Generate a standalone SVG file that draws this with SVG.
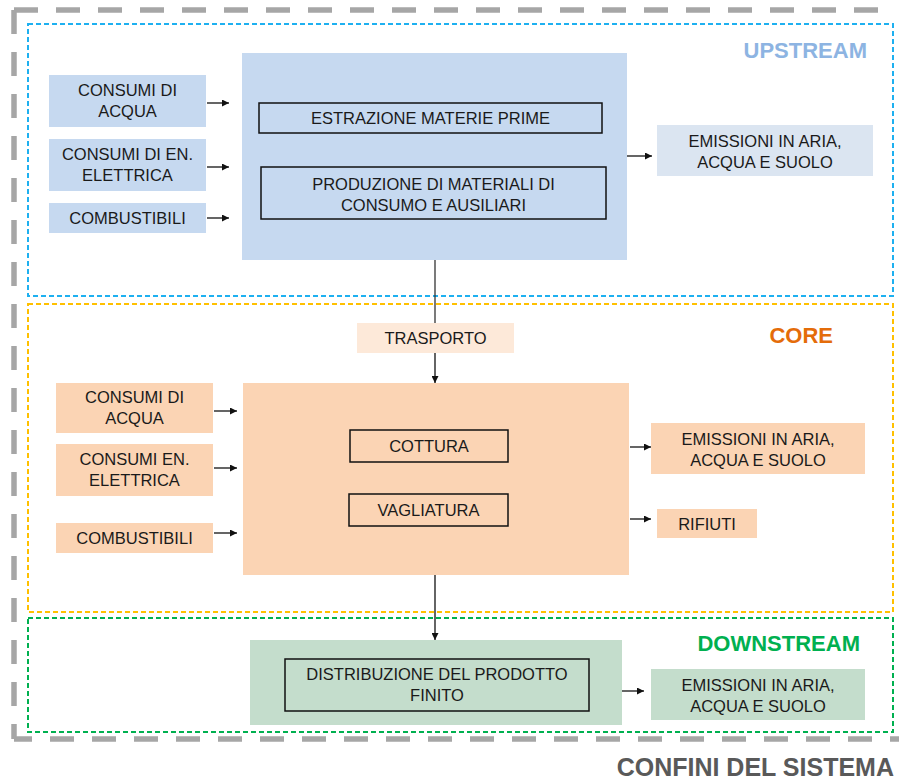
<svg xmlns="http://www.w3.org/2000/svg" width="899" height="780" viewBox="0 0 899 780">
<defs>
<marker id="ah" viewBox="0 0 10 10" refX="10" refY="5" markerWidth="7" markerHeight="7" markerUnits="userSpaceOnUse" orient="auto"><path d="M0,0 L10,5 L0,10 z" fill="#111"/></marker>
<style>
.t{font-family:"Liberation Sans",Arial,sans-serif;font-size:16.5px;fill:#1a1a1a;text-anchor:middle}
.lbl{font-family:"Liberation Sans",Arial,sans-serif;font-size:22px;font-weight:bold;text-anchor:end}
.c{stroke:#111;stroke-width:1.3;fill:none;marker-end:url(#ah)}
.v{stroke:#333;stroke-width:1.3;fill:none}
.in{fill:none;stroke:#111;stroke-width:1.5}
.up{fill:#C6D9F0}
.core{fill:#FBD4B4}
.dn{fill:#C4DDCC}
</style>
</defs>
<rect width="899" height="780" fill="#fff"/>
<!-- system boundary -->
<g id="boundary" fill="none" stroke="#A6A6A6" stroke-width="5.5" stroke-dasharray="24 18">
<path d="M14,10 H893"/>
<path d="M14,10 V739"/>
<path d="M14,739 H899" stroke-dashoffset="6"/>
</g>
<g id="zones" fill="none" stroke-width="2" stroke-dasharray="5 3">
<rect id="zone-upstream" x="28" y="24" width="865" height="272" stroke="#1EB0F0"/>
<rect id="zone-core" x="28" y="304" width="865" height="308" stroke="#FFC000"/>
<rect id="zone-downstream" x="28" y="618" width="865" height="114" stroke="#00B050"/>
</g>
<text class="lbl" x="867" y="58" fill="#8DB4E2">UPSTREAM</text>
<text class="lbl" x="833" y="343" fill="#E46C0A">CORE</text>
<text class="lbl" x="860" y="651" fill="#00B050">DOWNSTREAM</text>
<text class="lbl" x="894" y="776" fill="#595959" font-size="25" style="font-size:25px">CONFINI DEL SISTEMA</text>

<!-- upstream -->
<g id="up-acqua"><rect class="up" x="49" y="75" width="157" height="52"/><text class="t" x="127.5" y="96">CONSUMI DI</text><text class="t" x="127.5" y="117">ACQUA</text></g>
<g id="up-elettrica"><rect class="up" x="49" y="139" width="157" height="52"/><text class="t" x="127.5" y="160">CONSUMI DI EN.</text><text class="t" x="127.5" y="181">ELETTRICA</text></g>
<g id="up-combustibili"><rect class="up" x="49" y="203" width="157" height="30"/><text class="t" x="127.5" y="224">COMBUSTIBILI</text></g>
<g id="up-main"><rect class="up" x="242" y="53" width="385" height="207"/>
<rect class="in" x="259" y="103" width="343" height="30"/><text class="t" x="430.5" y="124">ESTRAZIONE MATERIE PRIME</text>
<rect class="in" x="261" y="167" width="345" height="52"/><text class="t" x="433.5" y="190">PRODUZIONE DI MATERIALI DI</text><text class="t" x="433.5" y="211">CONSUMO E AUSILIARI</text></g>
<g id="up-emissioni"><rect fill="#DBE5F1" x="657" y="125" width="216" height="51"/><text class="t" x="765" y="147">EMISSIONI IN ARIA,</text><text class="t" x="765" y="168">ACQUA E SUOLO</text></g>

<!-- core -->
<g id="trasporto"><rect fill="#FDE9D9" x="357" y="323" width="157" height="30"/><text class="t" x="435.5" y="344">TRASPORTO</text></g>
<g id="core-acqua"><rect class="core" x="56" y="383" width="157" height="50"/><text class="t" x="134.5" y="403">CONSUMI DI</text><text class="t" x="134.5" y="424">ACQUA</text></g>
<g id="core-elettrica"><rect class="core" x="56" y="444" width="157" height="52"/><text class="t" x="134.5" y="465">CONSUMI EN.</text><text class="t" x="134.5" y="486">ELETTRICA</text></g>
<g id="core-combustibili"><rect class="core" x="56" y="523" width="157" height="30"/><text class="t" x="134.5" y="544">COMBUSTIBILI</text></g>
<g id="core-main"><rect class="core" x="243" y="383" width="386" height="192"/>
<rect class="in" x="350" y="430" width="158" height="32"/><text class="t" x="429" y="452">COTTURA</text>
<rect class="in" x="349" y="494" width="159" height="32"/><text class="t" x="428.5" y="516">VAGLIATURA</text></g>
<g id="core-emissioni"><rect class="core" x="651" y="423" width="214" height="51"/><text class="t" x="758" y="445">EMISSIONI IN ARIA,</text><text class="t" x="758" y="466">ACQUA E SUOLO</text></g>
<g id="core-rifiuti"><rect class="core" x="657" y="509" width="100" height="29"/><text class="t" x="707" y="530">RIFIUTI</text></g>

<!-- downstream -->
<g id="dn-main"><rect class="dn" x="250" y="640" width="372" height="85"/>
<rect class="in" x="285" y="659" width="304" height="52"/><text class="t" x="437" y="680">DISTRIBUZIONE DEL PRODOTTO</text><text class="t" x="437" y="701">FINITO</text></g>
<g id="dn-emissioni"><rect class="dn" x="651" y="669" width="214" height="51"/><text class="t" x="758" y="691">EMISSIONI IN ARIA,</text><text class="t" x="758" y="712">ACQUA E SUOLO</text></g>

<!-- connectors -->
<g id="connectors">
<path class="c" d="M207,103 H229"/>
<path class="c" d="M207,167 H229"/>
<path class="c" d="M207,218 H229"/>
<path class="c" d="M627,156 H652"/>
<path class="v" d="M435,260 V323"/>
<path class="c" d="M435,353 V383"/>
<path class="c" d="M214,411 H237"/>
<path class="c" d="M214,468 H237"/>
<path class="c" d="M214,533 H237"/>
<path class="c" d="M630,447 H651"/>
<path class="c" d="M630,519 H651"/>
<path class="c" d="M435,575 V640"/>
<path class="c" d="M622,691 H644"/>
</g>
</svg>
